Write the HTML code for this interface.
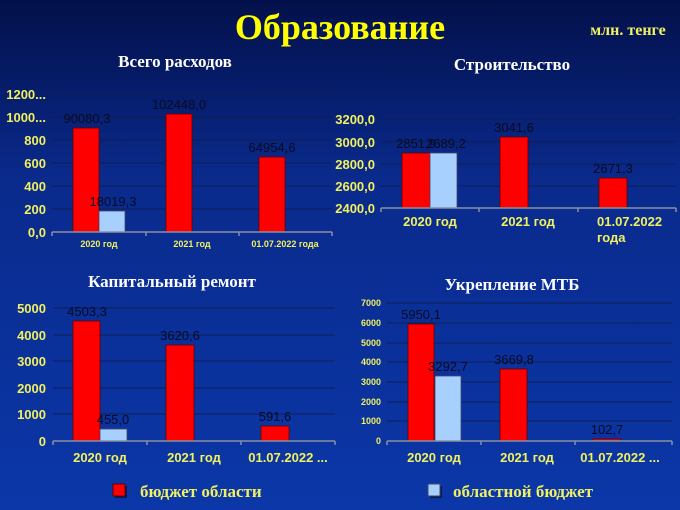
<!DOCTYPE html>
<html><head><meta charset="utf-8"><style>
html,body{margin:0;padding:0;width:680px;height:510px;overflow:hidden;background:#0a2a8a}
svg{display:block}
.y{font-family:"Liberation Sans",sans-serif;font-weight:bold;fill:#f0f060;text-anchor:end}
.c{font-family:"Liberation Sans",sans-serif;font-weight:bold;fill:#f0f060;text-anchor:middle}
.v{font-family:"Liberation Sans",sans-serif;fill:#0a0a22;text-anchor:middle;font-size:13px}
.t{font-family:"Liberation Serif",serif;font-weight:bold;fill:#fff;text-anchor:middle;font-size:17px}
.g{stroke:#0d1f55;stroke-width:1}
.ax{stroke:#8a90a0;stroke-width:1.5}
.r{fill:#ff0000;stroke:#600;stroke-width:0.8}
.b{fill:#a8d0ff;stroke:#446;stroke-width:0.8}
</style></head><body>
<svg width="680" height="510" viewBox="0 0 680 510">
<defs><linearGradient id="bg" x1="0" y1="0" x2="0" y2="1">
<stop offset="0" stop-color="#03104a"/><stop offset="0.35" stop-color="#0a2a8c"/><stop offset="1" stop-color="#0b37a8"/></linearGradient></defs>
<rect width="680" height="510" fill="url(#bg)"/>
<text x="340" y="39" text-anchor="middle" font-family="Liberation Serif,serif" font-weight="bold" font-size="36" fill="#ffff00">Образование</text>
<text x="628" y="35" text-anchor="middle" font-family="Liberation Serif,serif" font-weight="bold" font-size="16" fill="#f0f060">млн. тенге</text>
<text class="t" x="175" y="67">Всего расходов</text>
<text class="t" x="512" y="70">Строительство</text>
<text class="t" x="172" y="287">Капитальный ремонт</text>
<text class="t" x="512" y="290">Укрепление МТБ</text>

<!-- chart1 -->
<g>
<line class="g" x1="52" y1="94" x2="332" y2="94"/><line class="g" x1="52" y1="117" x2="332" y2="117"/><line class="g" x1="52" y1="140" x2="332" y2="140"/><line class="g" x1="52" y1="163" x2="332" y2="163"/><line class="g" x1="52" y1="186" x2="332" y2="186"/><line class="g" x1="52" y1="209" x2="332" y2="209"/>
<g class="y" font-size="13"><text x="46" y="99">1200...</text><text x="46" y="122">1000...</text><text x="46" y="145">800</text><text x="46" y="168">600</text><text x="46" y="191">400</text><text x="46" y="214">200</text><text x="46" y="237">0,0</text></g>
<rect class="r" x="73" y="128" width="26" height="104"/><rect class="b" x="99" y="211" width="26" height="21"/>
<rect class="r" x="166" y="114" width="26" height="118"/><rect class="r" x="259" y="157" width="26" height="75"/>
<line class="ax" x1="52" y1="232" x2="332" y2="232"/>
<g class="ax"><line x1="52" y1="232" x2="52" y2="236"/><line x1="146" y1="232" x2="146" y2="236"/><line x1="239" y1="232" x2="239" y2="236"/><line x1="332" y1="232" x2="332" y2="236"/></g>
<text class="v" x="87" y="123">90080,3</text><text class="v" x="113" y="206">18019,3</text><text class="v" x="179" y="109">102448,0</text><text class="v" x="272" y="152">64954,6</text>
<g class="c" font-size="9"><text x="99" y="247">2020 год</text><text x="192" y="247">2021 год</text><text x="285" y="247">01.07.2022 года</text></g>
</g>

<!-- chart2 -->
<g>
<line class="g" x1="381" y1="119" x2="676" y2="119"/><line class="g" x1="381" y1="142" x2="676" y2="142"/><line class="g" x1="381" y1="164" x2="676" y2="164"/><line class="g" x1="381" y1="186" x2="676" y2="186"/>
<g class="y" font-size="13"><text x="375" y="124">3200,0</text><text x="375" y="147">3000,0</text><text x="375" y="169">2800,0</text><text x="375" y="191">2600,0</text><text x="375" y="213">2400,0</text></g>
<rect class="r" x="402" y="153" width="28" height="55"/><rect class="b" x="430" y="153" width="27" height="55"/>
<rect class="r" x="500" y="137" width="28" height="71"/><rect class="r" x="599" y="178" width="28" height="30"/>
<line class="ax" x1="381" y1="208" x2="676" y2="208"/>
<g class="ax"><line x1="381" y1="208" x2="381" y2="212"/><line x1="479" y1="208" x2="479" y2="212"/><line x1="578" y1="208" x2="578" y2="212"/><line x1="676" y1="208" x2="676" y2="212"/></g>
<text class="v" x="416" y="148">2851,9</text><text class="v" x="446" y="148">2689,2</text><text class="v" x="514" y="132">3041,6</text><text class="v" x="613" y="173">2671,3</text>
<g class="c" font-size="13"><text x="430" y="226">2020 год</text><text x="528" y="226">2021 год</text><text x="597" y="226" text-anchor="start">01.07.2022</text><text x="597" y="242" text-anchor="start">года</text></g>
</g>

<!-- chart3 -->
<g>
<line class="g" x1="53" y1="308" x2="335" y2="308"/><line class="g" x1="53" y1="335" x2="335" y2="335"/><line class="g" x1="53" y1="361" x2="335" y2="361"/><line class="g" x1="53" y1="388" x2="335" y2="388"/><line class="g" x1="53" y1="414" x2="335" y2="414"/>
<g class="y" font-size="13"><text x="46" y="313">5000</text><text x="46" y="340">4000</text><text x="46" y="366">3000</text><text x="46" y="393">2000</text><text x="46" y="419">1000</text><text x="46" y="446">0</text></g>
<rect class="r" x="73" y="321" width="27" height="120"/><rect class="b" x="100" y="429" width="27" height="12"/>
<rect class="r" x="166" y="345" width="28" height="96"/><rect class="r" x="261" y="426" width="28" height="15"/>
<line class="ax" x1="53" y1="441" x2="335" y2="441"/>
<g class="ax"><line x1="53" y1="441" x2="53" y2="445"/><line x1="147" y1="441" x2="147" y2="445"/><line x1="241" y1="441" x2="241" y2="445"/><line x1="335" y1="441" x2="335" y2="445"/></g>
<text class="v" x="87" y="316">4503,3</text><text class="v" x="113" y="424">455,0</text><text class="v" x="180" y="340">3620,6</text><text class="v" x="275" y="421">591,6</text>
<g class="c" font-size="13"><text x="100" y="462">2020 год</text><text x="194" y="462">2021 год</text><text x="288" y="462">01.07.2022 ...</text></g>
</g>

<!-- chart4 -->
<g>
<line class="g" x1="387" y1="303" x2="672" y2="303"/><line class="g" x1="387" y1="323" x2="672" y2="323"/><line class="g" x1="387" y1="343" x2="672" y2="343"/><line class="g" x1="387" y1="362" x2="672" y2="362"/><line class="g" x1="387" y1="382" x2="672" y2="382"/><line class="g" x1="387" y1="402" x2="672" y2="402"/><line class="g" x1="387" y1="421" x2="672" y2="421"/>
<g class="y" font-size="9"><text x="381" y="306">7000</text><text x="381" y="326">6000</text><text x="381" y="346">5000</text><text x="381" y="365">4000</text><text x="381" y="385">3000</text><text x="381" y="405">2000</text><text x="381" y="424">1000</text><text x="381" y="444">0</text></g>
<rect class="r" x="408" y="324" width="26" height="117"/><rect class="b" x="435" y="376" width="26" height="65"/>
<rect class="r" x="500" y="369" width="27" height="72"/><rect class="r" x="593" y="439" width="28" height="2"/>
<line class="ax" x1="387" y1="441" x2="672" y2="441"/>
<g class="ax"><line x1="387" y1="441" x2="387" y2="445"/><line x1="481" y1="441" x2="481" y2="445"/><line x1="575" y1="441" x2="575" y2="445"/><line x1="672" y1="441" x2="672" y2="445"/></g>
<text class="v" x="421" y="319">5950,1</text><text class="v" x="448" y="371">3292,7</text><text class="v" x="514" y="364">3669,8</text><text class="v" x="607" y="434">102,7</text>
<g class="c" font-size="13"><text x="434" y="462">2020 год</text><text x="527" y="462">2021 год</text><text x="620" y="462">01.07.2022 ...</text></g>
</g>

<!-- legend -->
<rect x="115" y="486" width="12" height="12" fill="#000" opacity="0.5"/>
<rect x="113" y="484" width="12" height="12" fill="#ff0000" stroke="#600"/>
<text x="140" y="497" font-family="Liberation Serif,serif" font-weight="bold" font-size="17" fill="#f0f060">бюджет области</text>
<rect x="430" y="486" width="12" height="12" fill="#000" opacity="0.5"/>
<rect x="428" y="484" width="12" height="12" fill="#a8d0ff" stroke="#446"/>
<text x="453" y="497" font-family="Liberation Serif,serif" font-weight="bold" font-size="17" fill="#f0f060">областной бюджет</text>
</svg>
</body></html>
